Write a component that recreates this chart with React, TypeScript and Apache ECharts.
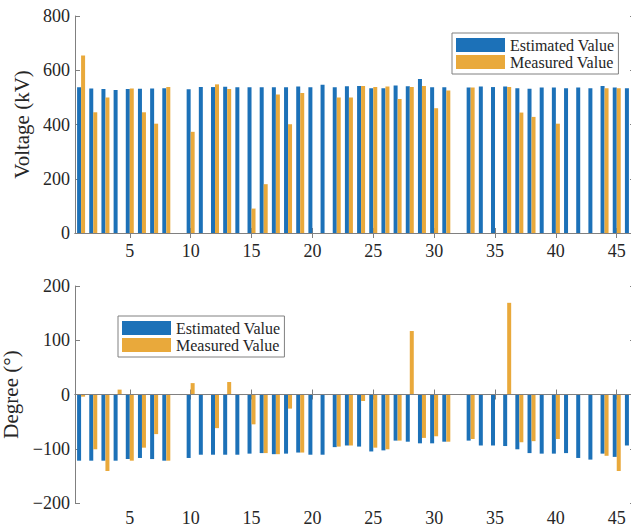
import React, { useEffect, useRef } from "react";
import * as echarts from "echarts";

const categories = Array.from({ length: 46 }, (_, i) => String(i + 1));

const voltageEstimated = [
  537, 533, 531, 527, 531, 532, 533, 534, 0, 530,
  538, 538, 539, 537, 537, 537, 537, 537, 540, 537,
  547, 537, 541, 542, 534, 534, 544, 541, 568, 537,
  537, 0, 536, 540, 538, 540, 534, 532, 536, 536,
  534, 536, 534, 542, 536, 534,
];
const voltageMeasured = [
  654, 445, 500, 0, 533, 445, 403, 538, 0, 373,
  0, 548, 531, 0, 90, 180, 511, 401, 516, 0,
  0, 500, 500, 542, 538, 540, 494, 538, 542, 460,
  525, 0, 536, 0, 0, 538, 444, 428, 0, 403,
  0, 0, 0, 534, 534, 0,
];
const degreeEstimated = [
  -122, -122, -122, -122, -119, -117, -119, -122, 0, -117,
  -111, -111, -111, -111, -109, -108, -110, -109, -107, -111,
  -111, -97, -94, -96, -105, -103, -85, -87, -90, -90,
  -87, 0, -85, -94, -94, -95, -101, -108, -109, -109,
  -108, -117, -120, -109, -115, -94,
];
const degreeMeasured = [
  -4, -101, -141, 9, -122, -98, -73, -122, -1, 21,
  -1, -62, 23, -1, -55, -108, -110, -26, -107, -1,
  -1, -96, -94, -12, -98, -101, -85, 117, -80, -77,
  -87, -1, -82, -1, -1, 169, -88, -86, -1, -82,
  -1, -1, -1, -113, -141, 0,
];

const voltageTicks = { min: 0, max: 800, interval: 200 };
const degreeTicks = { min: -200, max: 200, interval: 100 };

const BLUE = "#1C71B8";
const ORANGE = "#E9A93B";
const AXIS = "#808080";
const TEXT = "#262626";
const FONT = "'Liberation Serif', 'Times New Roman', serif";

const showTick = (i: number) => (i + 1) % 5 === 0;

function xAxes(gridIndex: number, labelMargin: number) {
  const common = {
    type: "category" as const,
    data: categories,
    gridIndex,
    boundaryGap: true,
    axisLine: { show: true, lineStyle: { color: AXIS, width: 1 } },
    axisTick: {
      show: true,
      inside: true,
      length: 5,
      alignWithLabel: true,
      interval: (i: number) => showTick(i),
      lineStyle: { color: AXIS },
    },
    splitLine: { show: false },
  };
  return [
    {
      ...common,
      position: "bottom",
      axisLabel: {
        show: true,
        interval: (i: number) => showTick(i),
        margin: labelMargin,
        fontSize: 18,
        fontFamily: FONT,
        color: TEXT,
      },
    },
    { ...common, position: "top", axisLabel: { show: false } },
  ];
}

function yAxes(
  gridIndex: number,
  ticks: { min: number; max: number; interval: number },
  name: string,
  nameGap: number
) {
  const common = {
    type: "value" as const,
    gridIndex,
    min: ticks.min,
    max: ticks.max,
    interval: ticks.interval,
    axisLine: { show: true, lineStyle: { color: AXIS, width: 1 } },
    axisTick: { show: true, inside: true, length: 5, lineStyle: { color: AXIS } },
    splitLine: { show: false },
  };
  return [
    {
      ...common,
      position: "left",
      name,
      nameLocation: "middle",
      nameGap,
      nameTextStyle: { fontSize: 21, fontFamily: FONT, color: TEXT },
      axisLabel: {
        show: true,
        margin: 5,
        fontSize: 18,
        fontFamily: FONT,
        color: TEXT,
        formatter: (v: number) => String(v).replace("-", "\u2212"),
      },
    },
    { ...common, position: "right", axisLabel: { show: false } },
  ];
}

function legend(left: number, top: number) {
  return {
    show: true,
    orient: "vertical",
    left,
    top,
    icon: "rect",
    itemWidth: 49,
    itemHeight: 14,
    itemGap: 1,
    padding: [4, 4, 4, 4],
    borderColor: AXIS,
    borderWidth: 1,
    borderRadius: 0,
    backgroundColor: "#ffffff",
    textStyle: { fontSize: 16, fontFamily: FONT, color: TEXT },
    data: ["Estimated Value", "Measured Value"],
  };
}

export default function App() {
  const ref = useRef<HTMLDivElement>(null);

  useEffect(() => {
    if (!ref.current) return;
    const chart = echarts.init(ref.current, undefined, { renderer: "svg" });
    const barCommon = { type: "bar", barWidth: 4, barGap: "0%" };
    chart.setOption({
      animation: false,
      backgroundColor: "#ffffff",
      textStyle: { fontFamily: FONT, color: TEXT },
      grid: [
        { left: 75, right: -4, top: 16, height: 217, outerBoundsMode: "none" },
        { left: 75, right: -4, top: 286, height: 217, outerBoundsMode: "none" },
      ],
      legend: [legend(452, 33), legend(118, 316)],
      xAxis: [...xAxes(0, 9), ...xAxes(1, 6)],
      yAxis: [
        ...yAxes(0, voltageTicks, "Voltage (kV)", 42),
        ...yAxes(1, degreeTicks, "Degree (°)", 48),
      ],
      series: [
        {
          ...barCommon,
          name: "Estimated Value",
          xAxisIndex: 0,
          yAxisIndex: 0,
          data: voltageEstimated,
          itemStyle: { color: BLUE },
        },
        {
          ...barCommon,
          name: "Measured Value",
          xAxisIndex: 0,
          yAxisIndex: 0,
          data: voltageMeasured,
          itemStyle: { color: ORANGE },
        },
        {
          ...barCommon,
          name: "Estimated Value",
          xAxisIndex: 2,
          yAxisIndex: 2,
          data: degreeEstimated,
          itemStyle: { color: BLUE },
          markLine: {
            silent: true,
            symbol: "none",
            label: { show: false },
            lineStyle: { color: AXIS, type: "solid", width: 1 },
            data: [{ yAxis: 0 }],
          },
        },
        {
          ...barCommon,
          name: "Measured Value",
          xAxisIndex: 2,
          yAxisIndex: 2,
          data: degreeMeasured,
          itemStyle: { color: ORANGE },
        },
      ],
    });
    return () => chart.dispose();
  }, []);

  return (
    <div
      ref={ref}
      style={{ position: "fixed", left: 0, top: 0, width: 631, height: 527 }}
    />
  );
}
